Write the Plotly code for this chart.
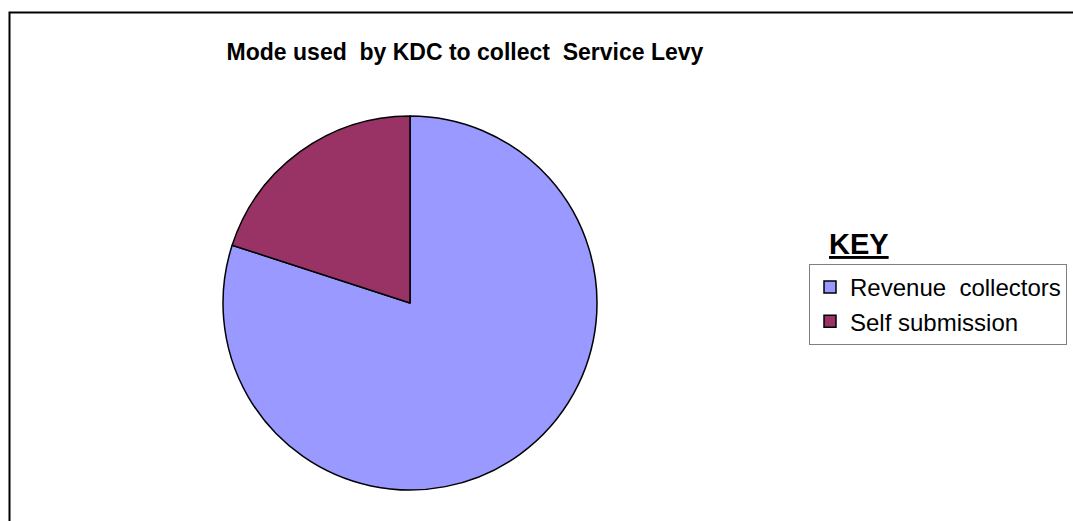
import plotly.graph_objects as go

labels = ["Revenue  collectors", "Self submission"]
values = [80, 20]
colors = ["#9999FF", "#993366"]
title_text = "Mode used  by KDC to collect  Service Levy"
key_text = "KEY"

W, H = 1073, 521

fig = go.Figure()
fig.add_trace(go.Pie(
    labels=labels,
    values=values,
    sort=False,
    direction="clockwise",
    rotation=0,
    textinfo="none",
    hoverinfo="label+percent",
    marker=dict(colors=colors, line=dict(color="#000000", width=1.5)),
    domain=dict(x=[223 / W, 597 / W], y=[31 / H, 405 / H]),
))

fig.update_layout(
    width=W, height=H,
    margin=dict(l=0, r=0, t=0, b=0),
    paper_bgcolor="white",
    plot_bgcolor="white",
    font=dict(family="Liberation Sans, Arial, sans-serif", color="black"),
    title=dict(
        text="<b>" + title_text + "</b>",
        x=465 / W, xanchor="center",
        y=1 - 52 / H, yanchor="middle",
        font=dict(size=23, color="black"),
    ),
    showlegend=True,
    legend=dict(
        x=809 / W, xanchor="left",
        y=1 - 264 / H, yanchor="top",
        bordercolor="#808080", borderwidth=1,
        bgcolor="white",
        font=dict(size=24, color="black"),
    ),
    annotations=[dict(
        text="<b><u>" + key_text + "</u></b>",
        x=859 / W, y=1 - 244 / H, xref="paper", yref="paper",
        xanchor="center", yanchor="middle", showarrow=False,
        font=dict(size=29, color="black"),
    )],
    shapes=[dict(
        type="rect", xref="paper", yref="paper",
        x0=9.5 / W, x1=1.05, y0=-0.05, y1=1 - 12.5 / H,
        line=dict(color="black", width=2), fillcolor="rgba(0,0,0,0)",
    )],
)

fig.write_html("out.html")
